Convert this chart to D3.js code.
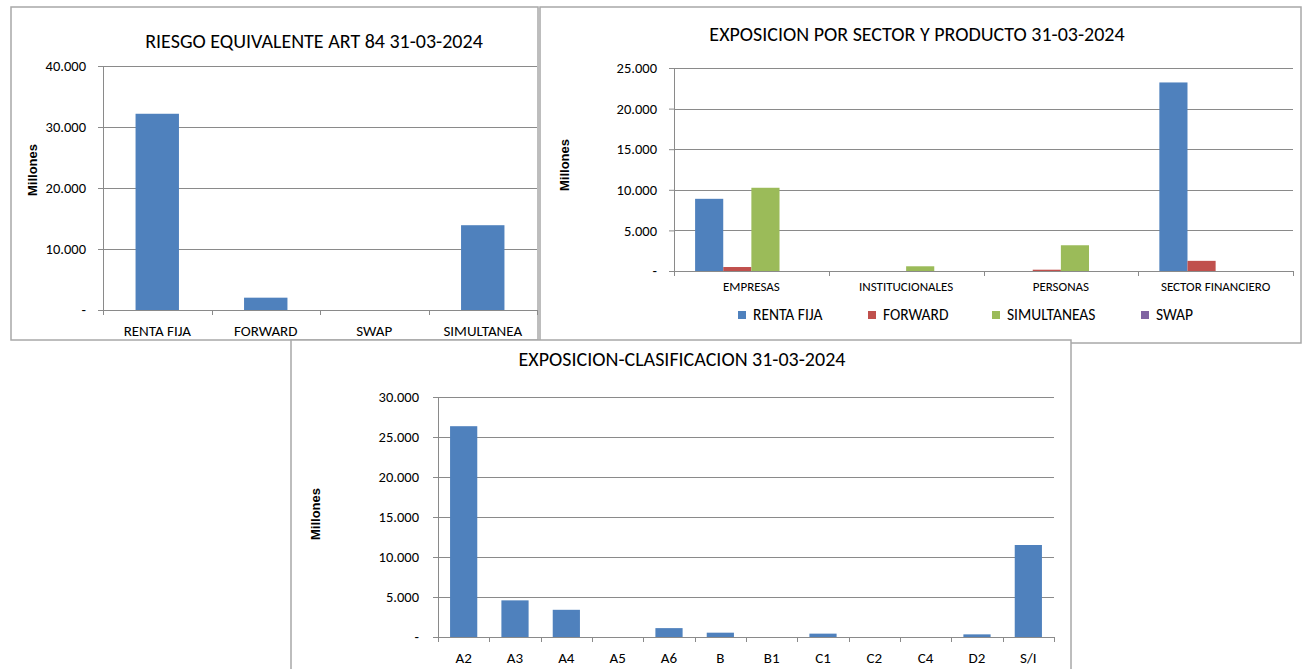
<!DOCTYPE html>
<html>
<head>
<meta charset="utf-8">
<script src="https://cdn.jsdelivr.net/npm/d3@7"></script>
<style>
  body { margin: 0; background: #fff; }
  svg { display: block; }
  text { font-family: Carlito, "Liberation Sans Narrow", "Liberation Sans", sans-serif; fill: #000; }
  .ylab { font-family: "Liberation Sans", Arial, sans-serif; font-weight: bold; font-size: 13px; }
  .panel { fill: #fff; stroke: #a8a8a8; stroke-width: 1.5; }
  .grid { stroke: #8a8a8a; stroke-width: 1; }
  .axis path, .axis line { stroke: #8a8a8a; }
</style>
</head>
<body>
<script>
// RIESGO EQUIVALENTE ART 84
const riesgoCats = ["RENTA FIJA", "FORWARD", "SWAP", "SIMULTANEA"];
const riesgoVals = [32170, 2020, 0, 13900];
const riesgoTicks = [0, 10000, 20000, 30000, 40000];

// EXPOSICION POR SECTOR Y PRODUCTO
const sectorCats = ["EMPRESAS", "INSTITUCIONALES", "PERSONAS", "SECTOR FINANCIERO"];
const productos = ["RENTA FIJA", "FORWARD", "SIMULTANEAS", "SWAP"];
const rentaFija = [8890, 0, 0, 23220];
const forward = [490, 0, 160, 1250];
const simultaneas = [10250, 580, 3170, 0];
const swap = [0, 0, 0, 0];
const sectorTicks = [0, 5000, 10000, 15000, 20000, 25000];

// EXPOSICION-CLASIFICACION
const clasifCats = ["A2", "A3", "A4", "A5", "A6", "B", "B1", "C1", "C2", "C4", "D2", "S/I"];
const clasifVals = [26350, 4580, 3400, 0, 1110, 540, 0, 420, 0, 0, 330, 11500];
const clasifTicks = [0, 5000, 10000, 15000, 20000, 25000, 30000];

const colores = ["#4f81bd", "#c0504d", "#9bbb59", "#8064a2"];

const num = d3.formatLocale({decimal: ",", thousands: ".", grouping: [3], currency: ["$", ""]}).format(",.0f");
const tickFmt = v => v === 0 ? "-" : num(v);

const svg = d3.select("body").append("svg")
  .attr("width", 1302)
  .attr("height", 669);

// draws the box, title, axes and gridlines; gives back the scales
function frame(c) {
  const g = svg.append("g");
  g.append("rect").attr("class", "panel")
    .attr("x", c.box[0]).attr("y", c.box[1]).attr("width", c.box[2]).attr("height", c.box[3]);

  g.append("text")
    .attr("x", c.titleX).attr("y", c.titleY)
    .attr("text-anchor", "middle")
    .style("font-size", c.titleSize + "px")
    .text(c.title);

  g.append("text").attr("class", "ylab")
    .attr("transform", `translate(${c.ylab[0]},${c.ylab[1]}) rotate(-90)`)
    .attr("text-anchor", "middle")
    .attr("dy", "0.35em")
    .text("Millones");

  const y = d3.scaleLinear().domain([0, d3.max(c.ticks)]).range([c.bottom, c.top]);
  const x = d3.scaleBand().domain(c.cats).range([c.left, c.right]);

  g.selectAll(".grid").data(c.ticks.filter(t => t > 0)).join("line")
    .attr("class", "grid")
    .attr("x1", c.left).attr("x2", c.right)
    .attr("y1", d => Math.round(y(d)) + 0.5).attr("y2", d => Math.round(y(d)) + 0.5);

  const ya = g.append("g").attr("class", "axis")
    .attr("transform", `translate(${c.left},0)`)
    .call(d3.axisLeft(y).tickValues(c.ticks).tickSize(5).tickSizeOuter(0).tickPadding(c.yPad).tickFormat(tickFmt));
  ya.selectAll("text").style("font-size", c.yFont + "px");

  const xa = g.append("g").attr("class", "axis")
    .attr("transform", `translate(0,${c.bottom})`)
    .call(d3.axisBottom(x).tickSize(0).tickSizeOuter(0).tickPadding(c.xPad));
  xa.selectAll("text").style("font-size", c.xFont + "px");
  ya.select(".domain").remove();
  xa.select(".domain").attr("d", `M${c.left},0.5H${c.right}`);
  g.append("line").attr("class", "grid")
    .attr("x1", c.left + 0.5).attr("x2", c.left + 0.5)
    .attr("y1", y(d3.max(c.ticks))).attr("y2", c.bottom + 5);

  // ticks between categories
  xa.selectAll(".sep").data(d3.range(c.cats.length + 1)).join("line")
    .attr("class", "sep")
    .attr("x1", i => Math.round(c.left + i * x.step()) + 0.5)
    .attr("x2", i => Math.round(c.left + i * x.step()) + 0.5)
    .attr("y1", 0).attr("y2", 5);

  return {g, x, y};
}

// chart 1
{
  const f = frame({
    box: [11, 7, 527, 333], title: "RIESGO EQUIVALENTE ART 84 31-03-2024", titleX: 314, titleY: 48, titleSize: 20,
    ylab: [32, 170], left: 103, right: 537, top: 66, bottom: 310,
    ticks: riesgoTicks, cats: riesgoCats, yPad: 12, yFont: 14.5, xPad: 15, xFont: 15
  });
  const xb = d3.scaleBand().domain(riesgoCats).range([103, 537]).paddingInner(0.6).paddingOuter(0.3);
  f.g.selectAll(".bar").data(riesgoVals).join("rect")
    .attr("fill", colores[0])
    .attr("x", (d, i) => xb(riesgoCats[i]))
    .attr("width", xb.bandwidth())
    .attr("y", d => f.y(d))
    .attr("height", d => f.y(0) - f.y(d));
}

// chart 2
{
  const f = frame({
    box: [540, 7, 761, 336], title: "EXPOSICION POR SECTOR Y PRODUCTO 31-03-2024", titleX: 917, titleY: 41, titleSize: 20,
    ylab: [564, 165], left: 674, right: 1293, top: 68, bottom: 271,
    ticks: sectorTicks, cats: sectorCats, yPad: 12, yFont: 14.5, xPad: 11, xFont: 13
  });
  const series = [rentaFija, forward, simultaneas, swap];
  const xs = d3.scaleBand().domain(productos).range([0, f.x.bandwidth()]).paddingOuter(0.75);
  productos.forEach((p, k) => {
    f.g.selectAll(".s" + k).data(series[k]).join("rect")
      .attr("fill", colores[k])
      .attr("x", (d, i) => f.x(sectorCats[i]) + xs(p))
      .attr("width", xs.bandwidth())
      .attr("y", d => f.y(d))
      .attr("height", d => f.y(0) - f.y(d));
  });

  // legend
  const legX = [738, 868, 992, 1141];
  const leg = f.g.selectAll(".leg").data(productos).join("g")
    .attr("transform", (d, i) => `translate(${legX[i]},315)`);
  leg.append("rect").attr("x", 0).attr("y", -4).attr("width", 8).attr("height", 8)
    .attr("fill", (d, i) => colores[i]);
  leg.append("text").attr("x", 15).attr("dy", "0.35em").style("font-size", "15.5px").text(d => d);
}

// chart 3
{
  const f = frame({
    box: [291, 340, 780, 340], title: "EXPOSICION-CLASIFICACION 31-03-2024", titleX: 682, titleY: 366, titleSize: 20,
    ylab: [315, 514], left: 438, right: 1054, top: 397, bottom: 637,
    ticks: clasifTicks, cats: clasifCats, yPad: 14, yFont: 14.5, xPad: 15, xFont: 15
  });
  const xb = d3.scaleBand().domain(clasifCats).range([438, 1054]).paddingInner(0.47).paddingOuter(0.235);
  f.g.selectAll(".bar").data(clasifVals).join("rect")
    .attr("fill", colores[0])
    .attr("x", (d, i) => xb(clasifCats[i]))
    .attr("width", xb.bandwidth())
    .attr("y", d => f.y(d))
    .attr("height", d => f.y(0) - f.y(d));
}
</script>
</body>
</html>
